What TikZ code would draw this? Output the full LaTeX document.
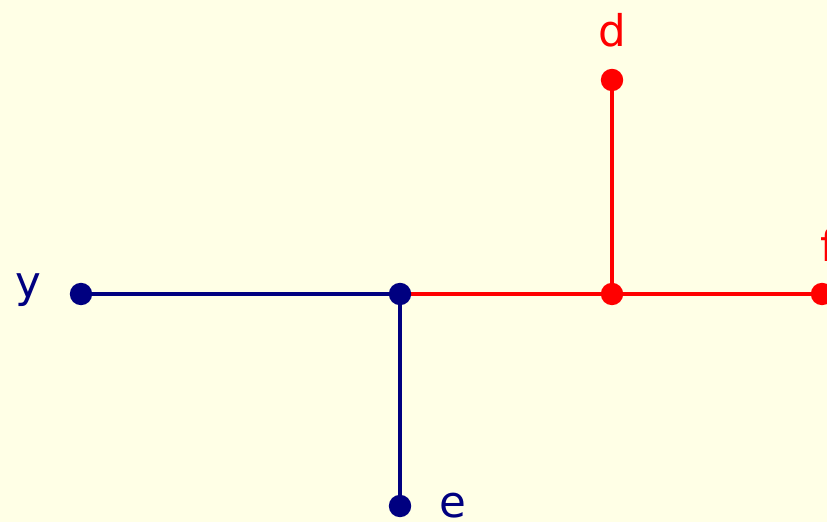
\documentclass[tikz,border=0pt]{standalone}
\usepackage{fontspec}
\setmainfont{DejaVu Sans}
\usetikzlibrary{positioning, backgrounds}
\definecolor{darknavy}{RGB}{0,0,128}
\definecolor{brightred}{RGB}{255,0,0}
\definecolor{paleyellow}{RGB}{255,255,230}

\begin{document}
\begin{tikzpicture}[
  dot/.style={circle, inner sep=0pt, minimum size=0.56cm},
  bdot/.style={dot, fill=darknavy},
  rdot/.style={dot, fill=brightred},
  bedge/.style={draw=darknavy, line width=2.8pt},
  redge/.style={draw=brightred, line width=2.8pt},
  lbl/.style={anchor=base, inner sep=0pt, font=\fontsize{31}{36}\selectfont}
]
\begin{scope}[on background layer]
\fill[paleyellow] (0,0) rectangle (20.675,13.05);
\end{scope}
\useasboundingbox (0,0) rectangle (20.675,13.05);

\node[bdot] (y) at (2.025, 5.7) {};
\node[bdot] (hub) at (10.0, 5.7) {};
\node[bdot] (e) at (10.0, 0.4) {};
\node[rdot] (join) at (15.3, 5.7) {};
\node[rdot] (d) at (15.3, 11.05) {};
\node[rdot] (f) at (20.55, 5.7) {};

\begin{scope}[on background layer]
\draw[bedge] (y.center) -- (hub.center);
\draw[bedge] (hub.center) -- (e.center);
\draw[redge] (hub.center) -- (join.center);
\draw[redge] (join.center) -- (d.center);
\draw[redge] (join.center) -- (f.center);
\end{scope}

\node[lbl, text=darknavy] (ylbl) at (0.7, 5.6) {y};
\node[lbl, text=darknavy] (elbl) at (11.325, 0.125) {e};
\node[lbl, text=brightred] (dlbl) at (15.3, 11.875) {d};
\node[lbl, text=brightred] (flbl) at (20.7, 6.5) {f};
\end{tikzpicture}
\end{document}
